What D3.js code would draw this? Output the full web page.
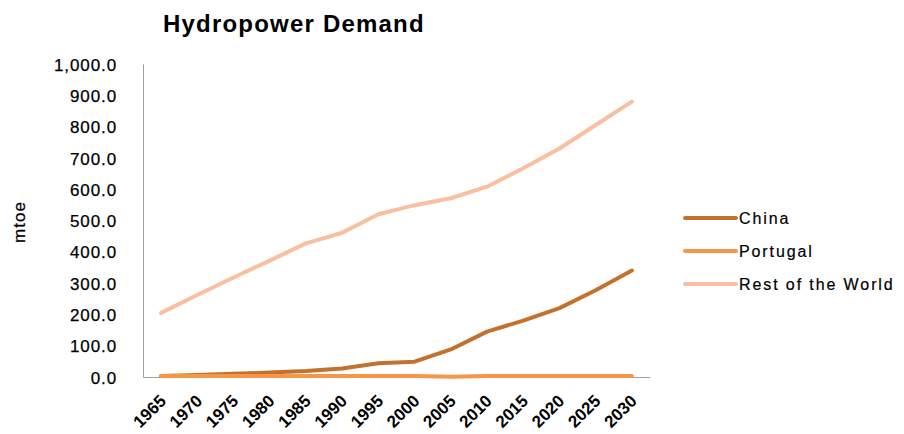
<!DOCTYPE html>
<html>
<head>
<meta charset="utf-8">
<script src="https://cdn.jsdelivr.net/npm/d3@7"></script>
<style>
  body { margin: 0; background: #fff; }
  text { font-family: "Liberation Sans", Arial, sans-serif; fill: #000; }
</style>
</head>
<body>
<div id="chart"></div>
<script>
const years = ["1965", "1970", "1975", "1980", "1985", "1990", "1995", "2000", "2005", "2010", "2015", "2020", "2025", "2030"];
const china = [3, 6, 10, 14, 19, 27, 44, 49, 88, 145, 180, 220, 277, 340];
const portugal = [3, 3, 3, 3, 3, 3, 3, 3, 0.5, 3, 3, 3, 3, 3];
const restOfWorld = [205, 262, 318, 372, 427, 461, 520, 549, 571, 608, 667, 730, 805, 880];
const yTicks = [0, 100, 200, 300, 400, 500, 600, 700, 800, 900, 1000];

const seriesNames = ["China", "Portugal", "Rest of the World"];
const seriesColors = ["#C5712E", "#F79646", "#F8C0A0"];
const seriesValues = [china, portugal, restOfWorld];

const width = 904, height = 434;
const plot = { left: 143, right: 650, top: 64, bottom: 377 };

const svg = d3.select("#chart").append("svg")
  .attr("width", width)
  .attr("height", height);

const x = d3.scaleBand().domain(years).range([plot.left, plot.right]);
const y = d3.scaleLinear().domain([0, 1000]).range([plot.bottom, plot.top]);

// title
svg.append("text")
  .attr("x", 163)
  .attr("y", 32)
  .style("font-size", "24px")
  .style("font-weight", "bold")
  .style("letter-spacing", "1.2px")
  .text("Hydropower Demand");

// y axis
const fmt = d3.format(",.1f");
const yAxis = svg.append("g")
  .attr("transform", `translate(${plot.left},0)`)
  .call(d3.axisLeft(y).tickValues(yTicks).tickFormat(fmt).tickSize(0).tickPadding(26));
yAxis.select(".domain").attr("stroke", "#a0a0a0");
yAxis.selectAll("text")
  .style("font-size", "17px")
  .style("letter-spacing", "0.9px")
  .style("stroke", "#000")
  .style("stroke-width", "0.25px")
  .attr("fill", "#000")
  .attr("dy", "0.36em");

// x axis
const xAxis = svg.append("g")
  .attr("transform", `translate(0,${plot.bottom})`)
  .call(d3.axisBottom(x).tickSize(0).tickFormat(d => d));
xAxis.select(".domain").attr("stroke", "#a0a0a0");
xAxis.selectAll("text")
  .attr("y", 0).attr("dy", 0)
  .attr("text-anchor", "end")
  .attr("transform", "translate(6,25) rotate(-45)")
  .style("font-size", "17px")
  .style("font-weight", "bold")
  .attr("fill", "#000");

// y axis title
svg.append("text")
  .attr("transform", "translate(25,222) rotate(-90)")
  .attr("text-anchor", "middle")
  .style("font-size", "17px")
  .style("letter-spacing", "1px")
  .style("stroke", "#000")
  .style("stroke-width", "0.25px")
  .text("mtoe");

// lines
const line = d3.line()
  .x((d, i) => x(years[i]) + x.bandwidth() / 2)
  .y(d => y(d));

const drawOrder = [2, 0, 1];
drawOrder.forEach(k => {
  svg.append("path")
    .datum(seriesValues[k])
    .attr("fill", "none")
    .attr("stroke", seriesColors[k])
    .attr("stroke-width", 4)
    .attr("stroke-linecap", "round")
    .attr("stroke-linejoin", "round")
    .attr("d", line);
});

// legend
const legend = svg.append("g");
seriesNames.forEach((name, i) => {
  const ly = 218 + i * 33;
  legend.append("line")
    .attr("x1", 685).attr("x2", 736)
    .attr("y1", ly).attr("y2", ly)
    .attr("stroke", seriesColors[i])
    .attr("stroke-width", 4)
    .attr("stroke-linecap", "round");
  legend.append("text")
    .attr("x", 739)
    .attr("y", ly + 6)
    .style("font-size", "16px")
    .style("letter-spacing", "1.9px")
    .style("stroke", "#000")
    .style("stroke-width", "0.2px")
    .text(name);
});
</script>
</body>
</html>
